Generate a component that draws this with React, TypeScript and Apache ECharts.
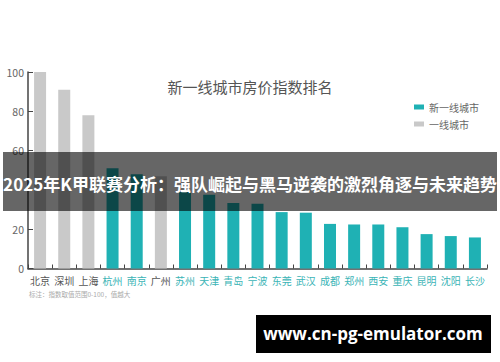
import React, { useEffect, useRef } from "react";
import * as echarts from "echarts";

const categories = ["北京", "深圳", "上海", "杭州", "南京", "广州", "苏州", "天津", "青岛", "宁波", "东莞", "武汉", "成都", "郑州", "西安", "重庆", "昆明", "沈阳", "长沙"];
const tier1Values: (number | string)[] = [100, 91, 78, "-", "-", 47, "-", "-", "-", "-", "-", "-", "-", "-", "-", "-", "-", "-", "-"];
const newTier1Values: (number | string)[] = ["-", "-", "-", 51, 48, "-", 39, 37.5, 33.3, 33, 28.7, 28.4, 22.7, 22.4, 22.4, 21, 17.5, 16.5, 15.8];
const isTier1 = [true, true, true, false, false, true, false, false, false, false, false, false, false, false, false, false, false, false, false];
const yTicks = { min: 0, max: 100, interval: 20 };
const hiddenYLabel = 40; // covered by the banner in the reference

const TEAL = "#1fb1b4";
const GRAY = "#c9c9c9";
const FONT = "'Noto Sans CJK SC', 'Noto Sans', sans-serif";

export default function App() {
  const ref = useRef<HTMLDivElement>(null);
  useEffect(() => {
    if (!ref.current) return;
    const chart = echarts.init(ref.current, undefined, { renderer: "svg" });
    chart.setOption({
      animation: false,
      textStyle: { fontFamily: FONT },
      title: {
        text: "新一线城市房价指数排名",
        left: "center",
        top: 74,
        textStyle: { fontSize: 15, fontWeight: "normal", color: "#555", fontFamily: FONT },
      },
      legend: {
        orient: "vertical",
        right: 16,
        top: 97,
        itemWidth: 10,
        itemHeight: 5,
        itemGap: 7,
        icon: "rect",
        data: ["新一线城市", "一线城市"],
        textStyle: { fontSize: 10, color: "#666", fontFamily: FONT },
      },
      grid: { left: 28, right: 13, top: 72, bottom: 93.5, containLabel: false },
      xAxis: {
        type: "category",
        data: categories,
        axisLine: { lineStyle: { color: "#444", width: 1.5 } },
        axisTick: { show: true, inside: true, length: 4, lineStyle: { color: "#444" } },
        axisLabel: {
          interval: 0,
          margin: 7,
          fontSize: 10,
          fontFamily: FONT,
          formatter: (v: string, i: number) => (isTier1[i] ? `{g|${v}}` : `{t|${v}}`),
          rich: {
            g: { color: "#555", fontSize: 10, fontFamily: FONT },
            t: { color: "#3ab4b6", fontSize: 10, fontFamily: FONT },
          },
        },
      },
      yAxis: {
        type: "value",
        min: yTicks.min,
        max: yTicks.max,
        interval: yTicks.interval,
        splitLine: { show: false },
        axisLine: { show: true, lineStyle: { color: "#444", width: 1.5 } },
        axisTick: { show: true, inside: true, length: 5, lineStyle: { color: "#444" } },
        axisLabel: {
          margin: 4,
          fontSize: 10.5,
          color: "#666",
          fontFamily: FONT,
          formatter: (v: number) => (v === hiddenYLabel ? "" : String(v)),
        },
      },
      series: [
        {
          name: "新一线城市",
          type: "bar",
          data: newTier1Values,
          barWidth: 12,
          barGap: "-100%",
          itemStyle: { color: TEAL },
        },
        {
          name: "一线城市",
          type: "bar",
          data: tier1Values,
          barWidth: 12,
          itemStyle: { color: GRAY },
        },
      ],
      graphic: [
        {
          type: "text",
          left: 29,
          top: 291,
          z: 10,
          style: { text: "标注：指数取值范围0-100，值越大", fontSize: 6.5, fill: "#aaa", fontFamily: FONT },
        },
        {
          type: "rect",
          shape: { x: 3, y: 152, width: 494, height: 59 },
          z: 100,
          style: { fill: "rgba(0,0,0,0.6)" },
        },
        {
          type: "text",
          x: 250,
          y: 183,
          z: 101,
          style: {
            text: "2025年K甲联赛分析：强队崛起与黑马逆袭的激烈角逐与未来趋势",
            fontSize: 17,
            fontWeight: "bold",
            fill: "#fff",
            align: "center",
            verticalAlign: "middle",
            fontFamily: FONT,
          },
        },
        {
          type: "rect",
          shape: { x: 256, y: 315, width: 235, height: 38 },
          z: 100,
          style: { fill: "#000" },
        },
        {
          type: "text",
          x: 373,
          y: 333,
          z: 101,
          style: {
            text: "www.cn-pg-emulator.com",
            fontSize: 17,
            fontWeight: "bold",
            fill: "#fff",
            align: "center",
            verticalAlign: "middle",
            fontFamily: "'Open Sans', 'Noto Sans', sans-serif",
          },
        },
      ],
    });
    return () => chart.dispose();
  }, []);
  return <div ref={ref} style={{ position: "fixed", left: 0, top: 0, width: 500, height: 362, background: "#fff" }} />;
}
